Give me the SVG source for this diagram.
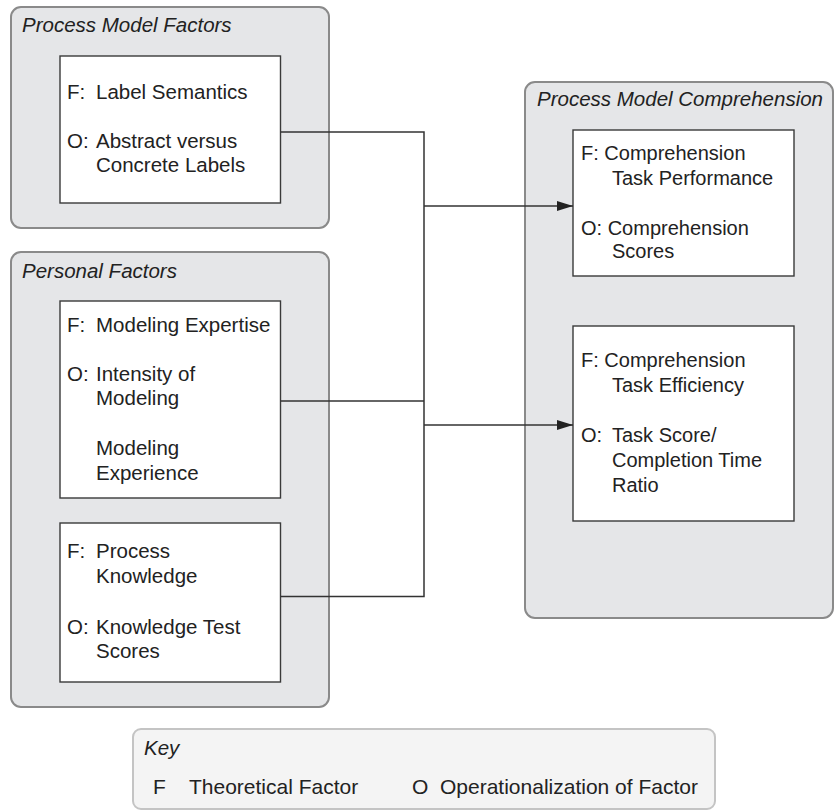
<svg xmlns="http://www.w3.org/2000/svg" width="835" height="812" viewBox="0 0 835 812">
<style>
.grp{fill:#e5e6e8;stroke:#8a8a8a;stroke-width:2}
.box{fill:#fff;stroke:#3a3a3a;stroke-width:1.4}
.key{fill:#f4f4f4;stroke:#c4c4c4;stroke-width:2}
text{font-family:"Liberation Sans",Arial,sans-serif;font-size:20.5px;fill:#222}
.t{font-style:italic}
.r{font-size:20px}
.k{font-size:21px}
.conn{fill:none;stroke:#333;stroke-width:1.5}
</style>
<defs>
<marker id="arr" markerWidth="16" markerHeight="10" refX="16" refY="5" orient="auto" markerUnits="userSpaceOnUse">
<polygon points="0,0 16,5 0,10" fill="#222"/>
</marker>
</defs>
<rect x="0" y="0" width="835" height="812" fill="#fff"/>

<g id="process-model-factors">
<rect class="grp" x="11" y="7" width="318" height="221" rx="10"/>
<text class="t" x="22" y="32">Process Model Factors</text>
</g>
<g id="label-semantics">
<rect class="box" x="60" y="56" width="220.5" height="147"/>
<text x="67" y="99">F:</text><text x="96" y="99">Label Semantics</text>
<text x="67" y="148">O:</text><text x="96" y="148">Abstract versus</text>
<text x="96" y="172">Concrete Labels</text>
</g>

<g id="personal-factors">
<rect class="grp" x="11" y="252" width="318" height="455" rx="10"/>
<text class="t" x="22" y="278">Personal Factors</text>
</g>
<g id="modeling-expertise">
<rect class="box" x="60" y="301" width="220.5" height="197"/>
<text x="67" y="332">F:</text><text x="96" y="332">Modeling Expertise</text>
<text x="67" y="381">O:</text><text x="96" y="381">Intensity of</text>
<text x="96" y="405">Modeling</text>
<text x="96" y="455">Modeling</text>
<text x="96" y="480">Experience</text>
</g>
<g id="process-knowledge">
<rect class="box" x="60" y="523" width="220.5" height="159"/>
<text x="67" y="558">F:</text><text x="96" y="558">Process</text>
<text x="96" y="583">Knowledge</text>
<text x="67" y="634">O:</text><text x="96" y="634">Knowledge Test</text>
<text x="96" y="658">Scores</text>
</g>

<g id="process-model-comprehension">
<rect class="grp" x="525" y="82" width="308" height="536" rx="10"/>
<text class="t" x="537" y="106">Process Model Comprehension</text>
</g>
<g id="task-performance">
<rect class="box" x="573" y="130" width="221" height="146"/>
<text class="r" x="581" y="160">F: Comprehension</text>
<text class="r" x="612" y="185">Task Performance</text>
<text class="r" x="581" y="235">O: Comprehension</text>
<text class="r" x="612" y="258">Scores</text>
</g>
<g id="task-efficiency">
<rect class="box" x="573" y="326" width="221" height="195"/>
<text class="r" x="581" y="367">F: Comprehension</text>
<text class="r" x="612" y="392">Task Efficiency</text>
<text class="r" x="581" y="442">O:</text><text class="r" x="612" y="442">Task Score/</text>
<text class="r" x="612" y="467">Completion Time</text>
<text class="r" x="612" y="492">Ratio</text>
</g>

<g id="connectors">
<path class="conn" d="M280.5 132 H424 V596.5 H280.5"/>
<path class="conn" d="M280.5 401 H424"/>
<path class="conn" d="M424 206 H573" marker-end="url(#arr)"/>
<path class="conn" d="M424 425 H573" marker-end="url(#arr)"/>
</g>

<g id="key">
<rect class="key" x="133" y="729" width="582" height="80" rx="8"/>
<text class="t" x="144" y="755">Key</text>
<text class="k" x="153" y="794">F</text>
<text class="k" x="189" y="794">Theoretical Factor</text>
<text class="k" x="412" y="794">O</text>
<text class="k" x="440" y="794">Operationalization of Factor</text>
</g>
</svg>
